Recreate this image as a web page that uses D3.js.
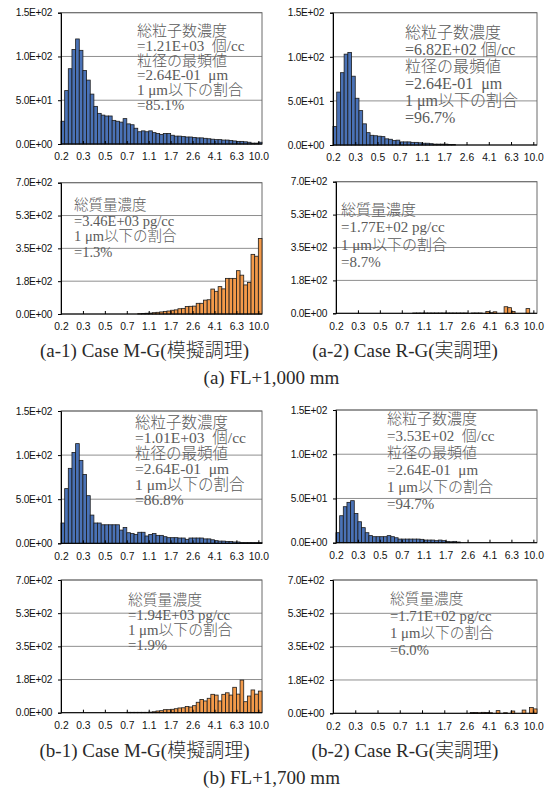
<!DOCTYPE html>
<html><head><meta charset="utf-8">
<script src="https://cdn.jsdelivr.net/npm/d3@7"></script>
<style>
html,body{margin:0;padding:0;background:#fff;}
svg text{white-space:pre;}
</style></head>
<body>
<svg id="chart" width="550" height="802"></svg>
<script>
// ---------- DATA ----------
const xLabels = ["0.2","0.3","0.5","0.7","1.1","1.7","2.6","4.1","6.3","10.0"];
const binsPerLabel = 6;
const nBins = 55;

const countTicks = [0, 50, 100, 150];
const countTickLabels = ["0.0E+00","5.0E+01","1.0E+02","1.5E+02"];
const massTicks = [0, 175, 350, 525, 700];
const massTickLabels = ["0.0E+00","1.8E+02","3.5E+02","5.3E+02","7.0E+02"];

const a1Count = [26,61,86,108,120,107,84,73,57,43,35,33,32,32,27,26,25,29,23,22,18,14,15,14,15,13,12,11,12,12,10,9,9,8.5,8,8,7.5,7,7,6.5,6,5.5,5,5,4.5,4.5,4,3.5,3,3,2.5,2,1,1,2];
const a2Count = [21,60,82,103,105,78,53,39,24,14,11,10.5,10,9.5,7,6.5,5,5.5,3.5,3.5,3.5,3,3,2.5,2,2,1.5,1,1,1,1,0.5,0.5,0,0,0,0,0,0,0,0,0,0,0,0,0,0,0,0,0,0,0,0,0,0];
const a1Mass = [0,0,0,0,0,0,0,0,0,0,0,0,0,0,0,0,0,0,0,0,0,2,3,4,5,7,9,11,14,16,20,22,28,30,40,41,42,57,57,74,76,133,121,146,134,190,190,190,231,207,155,168,318,308,403];
const a2Mass = [0,0,0,0,0,0,0,0,0,0,0,0,0,0,0,0,0,0,0,0,0,1.5,1.5,1.5,1.5,1.5,1.5,1.5,1.5,1.5,1.5,1.5,1.5,1.5,1.5,1.5,0,1.5,1.5,1.5,0,10,3,8,0,0,35,30,10,0,0,0,25,0,0];
const b1Count = [23,62,85,103,113,94,78,54,32,23,23,21,21,21,21,21,15,18,12,11,10,12.5,12.5,8.3,10,11,9,9,7.5,6.4,6.4,6.4,6,6,4.5,6,6,6,6,5,5,4,3,2.5,2.5,2,2,1.5,1.5,1,1,1,1,1,1];
const b2Count = [11.3,30.5,40.7,45.6,47.5,33,23.7,17,11.3,8,6.8,6.8,6.8,6.8,8,6.8,5.6,4.1,4.1,4.1,4.1,4.1,4.1,3.8,3,3,3,2.3,3,2.3,1.5,1.1,1.5,0.8,0,0,0,0,0,0,0,0,0,0,0,0,0,0,0,0,0,0,0,0,0];
const b1Mass = [0,0,0,0,0,0,0,0,0,0,0,0,0,0,0,0,0,0,2,2,2,2,2,2,3,5,9,10.5,16,16,18,21,25,26,33,30,37,55,70,62,76,97,93,62,97,105,93,134,98,172,58,88,120,98,114];
const b2Mass = [0,0,0,0,0,0,0,0,0,0,0,0,0,0,0,0,0,0,0,0,0,0,0,0,0,0,0,0,0,0,0,0,0,0,0,0,0,4,4,3,5,4,3,0,14,0,3,0,12,0,0,17,0,30,23];

const a1CountNote = ["総粒子数濃度","=1.21E+03  個/cc","粒径の最頻値","=2.64E-01  μm","1 μm以下の割合","=85.1%"];
const a2CountNote = ["総粒子数濃度","=6.82E+02 個/cc","粒径の最頻値","=2.64E-01  μm","1 μm以下の割合","=96.7%"];
const a1MassNote = ["総質量濃度","=3.46E+03 pg/cc","1 μm以下の割合","=1.3%"];
const a2MassNote = ["総質量濃度","=1.77E+02 pg/cc","1 μm以下の割合","=8.7%"];
const b1CountNote = ["総粒子数濃度","=1.01E+03  個/cc","粒径の最頻値","=2.64E-01  μm","1 μm以下の割合","=86.8%"];
const b2CountNote = ["総粒子数濃度","=3.53E+02  個/cc","粒径の最頻値","=2.64E-01  μm","1 μm以下の割合","=94.7%"];
const b1MassNote = ["総質量濃度","=1.94E+03 pg/cc","1 μm以下の割合","=1.9%"];
const b2MassNote = ["総質量濃度","=1.71E+02 pg/cc","1 μm以下の割合","=6.0%"];

const captions = ["(a-1) Case M-G(模擬調理)","(a-2) Case R-G(実調理)","(a) FL+1,000 mm","(b-1) Case M-G(模擬調理)","(b-2) Case R-G(実調理)","(b) FL+1,700 mm"];

// ---------- LAYOUT ----------
const countColor = "#4a72b6", massColor = "#f39a4a";
const panels = [
  {vals:a1Count, kind:"count", x0:61,  x1:262, y0:12.7, y1:144,   note:a1CountNote, nx:137, ny:36,  ndy:14.8, nfs:15},
  {vals:a2Count, kind:"count", x0:333, x1:537, y0:12.7, y1:145,   note:a2CountNote, nx:405, ny:37.5,ndy:17.1, nfs:16},
  {vals:a1Mass,  kind:"mass",  x0:61,  x1:262, y0:182.7,y1:314,   note:a1MassNote,  nx:74,  ny:210, ndy:15.5, nfs:14.5},
  {vals:a2Mass,  kind:"mass",  x0:336, x1:537, y0:181.7,y1:313.3, note:a2MassNote,  nx:341, ny:215, ndy:17.4, nfs:15},
  {vals:b1Count, kind:"count", x0:61,  x1:262, y0:411,  y1:543.3, note:b1CountNote, nx:135, ny:428, ndy:15.4, nfs:15.5},
  {vals:b2Count, kind:"count", x0:336, x1:537, y0:410,  y1:542.7, note:b2CountNote, nx:387, ny:423.5,ndy:17.1, nfs:15},
  {vals:b1Mass,  kind:"mass",  x0:61,  x1:262, y0:580,  y1:712.7, note:b1MassNote,  nx:128, ny:604.5,ndy:15.3, nfs:14.8},
  {vals:b2Mass,  kind:"mass",  x0:333, x1:537, y0:580,  y1:713.3, note:b2MassNote,  nx:390, ny:603.5,ndy:17.2, nfs:14.7}
];

const svg = d3.select("#chart");
const serif = "'Liberation Serif','Noto Sans CJK JP',serif";
const sans = "'Liberation Sans','DejaVu Sans',sans-serif";

panels.forEach(p => {
  const isCount = p.kind === "count";
  const ticks = isCount ? countTicks : massTicks;
  const tLabels = isCount ? countTickLabels : massTickLabels;
  const yMax = ticks[ticks.length - 1];
  const x = d3.scaleLinear().domain([0, nBins]).range([p.x0, p.x1]);
  const y = d3.scaleLinear().domain([0, yMax]).range([p.y1, p.y0]);
  const g = svg.append("g");

  // gridlines
  g.selectAll("line.grid").data(ticks.slice(1)).join("line")
    .attr("x1", p.x0).attr("x2", p.x1)
    .attr("y1", d => y(d)).attr("y2", d => y(d))
    .attr("stroke", "#8f8f8f").attr("stroke-width", 1);

  // frame
  g.append("rect").attr("x", p.x0).attr("y", y(yMax)).attr("width", p.x1 - p.x0).attr("height", p.y1 - y(yMax))
    .attr("fill", "none").attr("stroke", "#6a6a6a").attr("stroke-width", 1);

  // bars
  const data = p.vals.map((v, i) => ({i, v})).filter(d => d.v > 0);
  g.selectAll("rect.bar").data(data).join("rect")
    .attr("x", d => x(d.i)).attr("width", d => x(d.i + 1) - x(d.i))
    .attr("y", d => y(d.v)).attr("height", d => p.y1 - y(d.v))
    .attr("fill", isCount ? countColor : massColor)
    .attr("stroke", "#1c1c1c").attr("stroke-width", 0.8);

  // y axis
  const yAxis = d3.axisLeft(y).tickValues(ticks).tickSize(3).tickPadding(6)
    .tickFormat((d, i) => tLabels[i]);
  const ya = g.append("g").attr("transform", `translate(${p.x0},0)`).call(yAxis);
  ya.select(".domain").attr("stroke", "#000");
  ya.selectAll(".tick line").attr("stroke", "#000");
  ya.selectAll("text").attr("font-family", sans).attr("font-size", 10.2).attr("fill", "#111")
    .attr("letter-spacing", -0.3);

  // x axis (labels every binsPerLabel bins at bin left edges)
  const labelPos = d3.scalePoint().domain(xLabels).range([x(0), x(binsPerLabel * (xLabels.length - 1))]);
  const xAxis = d3.axisBottom(labelPos).tickSize(-3).tickPadding(9);
  const xa = g.append("g").attr("transform", `translate(0,${p.y1})`).call(xAxis);
  xa.select(".domain").remove();
  xa.selectAll(".tick line").attr("stroke", "#000");
  xa.selectAll("text").attr("font-family", sans).attr("font-size", 10.3).attr("fill", "#111");
  g.append("line").attr("x1", p.x0).attr("x2", p.x1).attr("y1", p.y1).attr("y2", p.y1).attr("stroke", "#000");

  // annotation
  g.selectAll("text.note").data(p.note).join("text")
    .attr("x", p.nx).attr("y", (d, i) => p.ny + i * p.ndy)
    .attr("font-family", serif).attr("font-size", p.nfs).attr("fill", "#5a5a5a")
    .attr("font-weight", 300)
    .text(d => d);
});

// captions
const capPos = [[144.5,357],[405,357],[271.5,384],[144.5,757],[405,757],[271.5,784]];
svg.selectAll("text.cap").data(captions).join("text")
  .attr("x", (d, i) => capPos[i][0]).attr("y", (d, i) => capPos[i][1])
  .attr("text-anchor", "middle").attr("font-family", serif).attr("font-size", 19).attr("fill", "#2a2a2a")
  .attr("font-weight", 300)
  .text(d => d);
</script>
</body></html>
